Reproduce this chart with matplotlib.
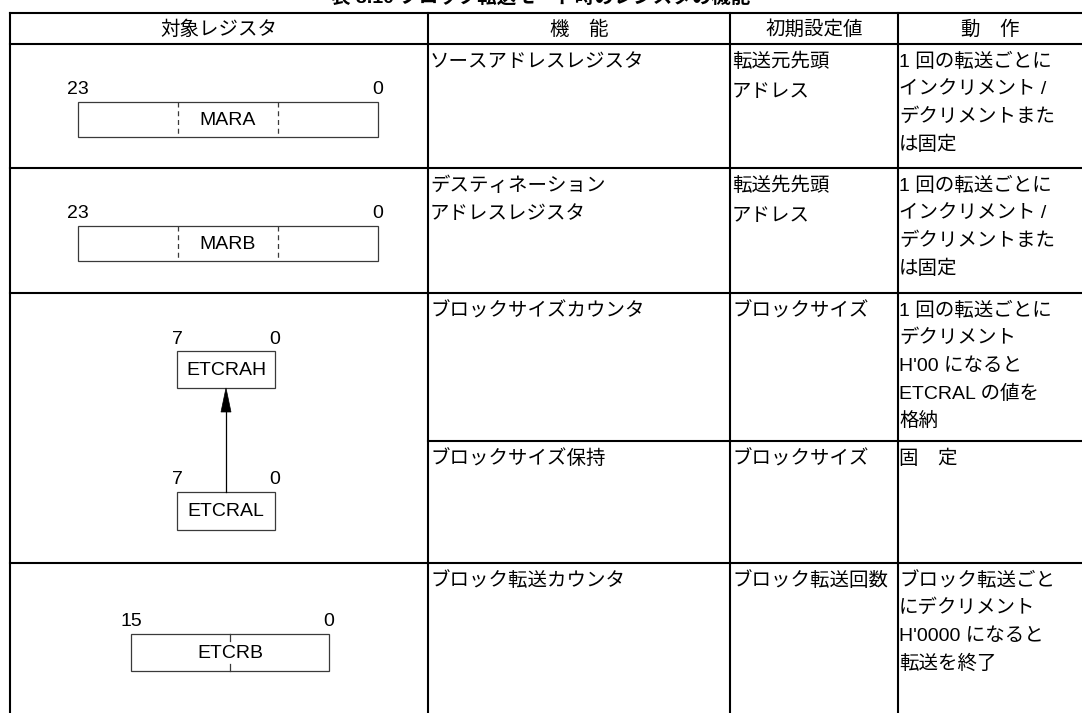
import matplotlib
matplotlib.use("Agg")
import matplotlib.pyplot as plt
from matplotlib.patches import Rectangle, Polygon

plt.rcParams['font.family'] = ['Liberation Sans', 'Noto Sans CJK JP', 'DejaVu Sans']

# table contents
title = "表 8.10 ブロック転送モード時のレジスタの機能"
headers = ["対象レジスタ", "機　能", "初期設定値", "動　作"]
functions = [["ソースアドレスレジスタ"],
             ["デスティネーション", "アドレスレジスタ"],
             ["ブロックサイズカウンタ"],
             ["ブロックサイズ保持"],
             ["ブロック転送カウンタ"]]
initial_values = [["転送元先頭", "アドレス"],
                  ["転送先先頭", "アドレス"],
                  ["ブロックサイズ"],
                  ["ブロックサイズ"],
                  ["ブロック転送回数"]]
actions = [["1 回の転送ごとに", "インクリメント /", "デクリメントまた", "は固定"],
           ["1 回の転送ごとに", "インクリメント /", "デクリメントまた", "は固定"],
           ["1 回の転送ごとに", "デクリメント", "H'00 になると", "ETCRAL の値を", "格納"],
           ["固　定"],
           ["ブロック転送ごと", "にデクリメント", "H'0000 になると", "転送を終了"]]

# register drawings: name, msb, lsb
reg_names = ["MARA", "MARB", "ETCRAH", "ETCRAL", "ETCRB"]
reg_msb = ["23", "23", "7", "7", "15"]
reg_lsb = ["0", "0", "0", "0", "0"]

# layout in pixels
W, H = 1082, 713
col_x = [10, 428, 730, 898, 1082]
table_top = 13
header_bottom = 44
row_tops = [44, 168, 293, 441, 563]
row_bottoms = [168, 293, 441, 563, 713]
# register boxes (x0, x1, y0, y1) and divider style
reg_boxes = [(78, 378, 102, 137), (78, 378, 226, 261),
             (177, 275, 351, 388), (177, 275, 492, 530),
             (131, 329, 634, 671)]
reg_divs = ["dash3", "dash3", None, None, "tick"]

fig = plt.figure(figsize=(W / 100, H / 100), dpi=100)
ax = fig.add_axes([0, 0, 1, 1])
ax.set_xlim(0, W)
ax.set_ylim(H, 0)
ax.axis('off')

lw = 1.5
# title, cut off at the top like the source page
ax.text(W / 2, -3, title, ha='center', va='center', fontsize=14, fontweight='bold')

# grid lines
ax.plot([col_x[0], W], [table_top, table_top], color='black', lw=lw)
ax.plot([col_x[0], W], [header_bottom, header_bottom], color='black', lw=lw)
for x in col_x[:4]:
    ax.plot([x, x], [table_top, H], color='black', lw=lw)
for i, yb in enumerate(row_bottoms[:-1]):
    x0 = col_x[1] if i == 2 else col_x[0]
    ax.plot([x0, W], [yb, yb], color='black', lw=lw)

# header
for j, h in enumerate(headers):
    ax.text((col_x[j] + col_x[j + 1]) / 2, (table_top + header_bottom) / 2 + 1, h,
            ha='center', va='center', fontsize=14)

# body text
def cell_lines(lines, x, top, step):
    for k, s in enumerate(lines):
        ax.text(x, top + 18 + k * step, s, ha='left', va='center', fontsize=14)

for i in range(5):
    cell_lines(functions[i], col_x[1] + 2, row_tops[i], 28)
    cell_lines(initial_values[i], col_x[2] + 2, row_tops[i], 31)
    cell_lines(actions[i], col_x[3] + 1, row_tops[i], 27.5)

# register diagrams
gray = '#3a3a3a'
for i, name in enumerate(reg_names):
    x0, x1, y0, y1 = reg_boxes[i]
    ax.add_patch(Rectangle((x0, y0), x1 - x0, y1 - y0, fill=False, ec=gray, lw=0.9))
    cx = (x0 + x1) / 2
    ax.text(cx, (y0 + y1) / 2 + 1, name, ha='center', va='center', fontsize=14)
    ax.text(x0, y0 - 12, reg_msb[i], ha='center', va='center', fontsize=14)
    ax.text(x1, y0 - 12, reg_lsb[i], ha='center', va='center', fontsize=14)
    if reg_divs[i] == "dash3":
        for xd in (x0 + (x1 - x0) / 3, x0 + 2 * (x1 - x0) / 3):
            ax.plot([xd, xd], [y0, y1], color=gray, lw=0.9, ls=(0, (4, 3)))
    elif reg_divs[i] == "tick":
        ax.plot([cx, cx], [y0, y0 + 7], color=gray, lw=0.9)
        ax.plot([cx, cx], [y1 - 7, y1], color=gray, lw=0.9)

# arrow ETCRAL -> ETCRAH
ax_x = (reg_boxes[2][0] + reg_boxes[2][1]) / 2
ah_top = reg_boxes[2][3]
ax.plot([ax_x, ax_x], [reg_boxes[3][2], ah_top + 20], color='black', lw=0.9)
ax.add_patch(Polygon([[ax_x, ah_top], [ax_x - 5, ah_top + 24], [ax_x + 5, ah_top + 24]],
                     closed=True, fc='black', ec='black', lw=0.5))

fig.savefig("out.png", dpi=100)
